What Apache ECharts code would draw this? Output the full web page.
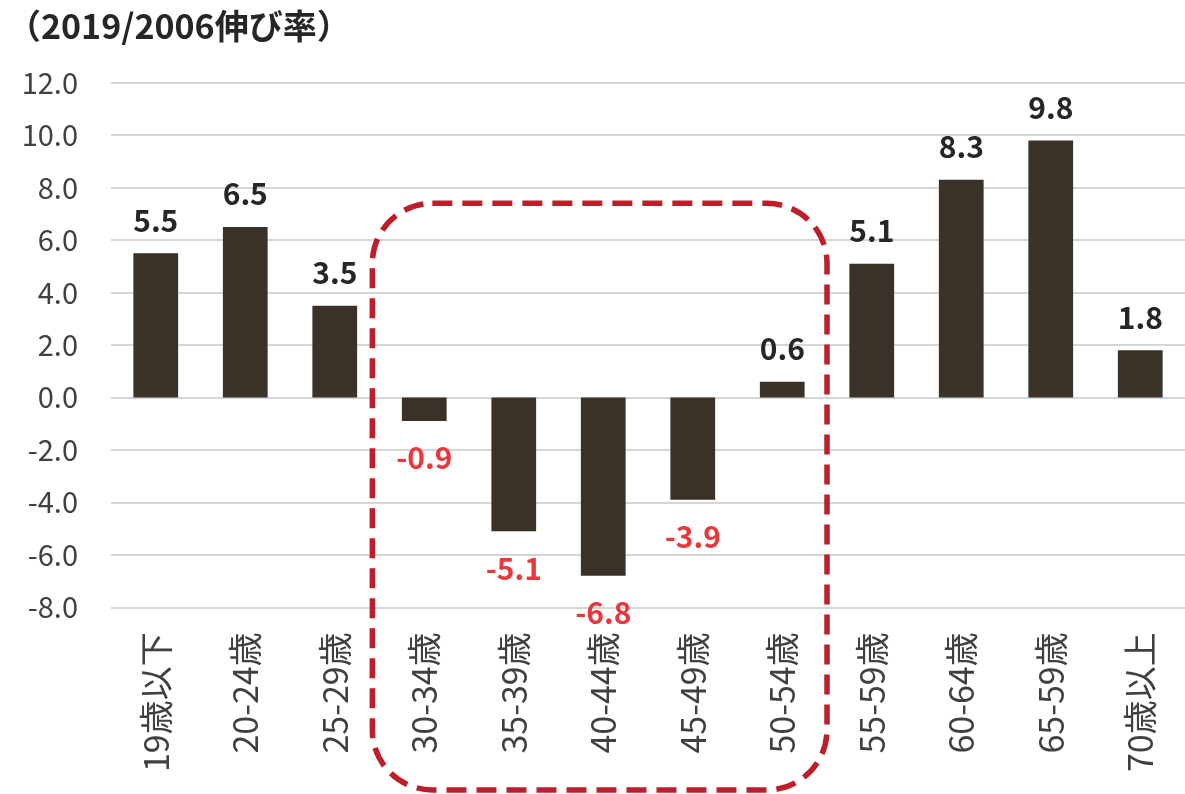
<!DOCTYPE html>
<html>
<head>
<meta charset="utf-8">
<script src="https://cdn.jsdelivr.net/npm/echarts@6/dist/echarts.min.js"></script>
<style>
  html, body { margin: 0; padding: 0; background: #ffffff; }
  #chart { width: 1185px; height: 794px; }
</style>
</head>
<body>
<div id="chart"></div>
<script>
// Age groups on the horizontal axis
const categories = ['19歳以下', '20-24歳', '25-29歳', '30-34歳', '35-39歳', '40-44歳',
                    '45-49歳', '50-54歳', '55-59歳', '60-64歳', '65-59歳', '70歳以上'];
// Growth rate 2019 vs 2006
const growthRates = [5.5, 6.5, 3.5, -0.9, -5.1, -6.8, -3.9, 0.6, 5.1, 8.3, 9.8, 1.8];
// Value axis range
const yMin = -8;
const yMax = 12;
const yStep = 2;
// Highlighted group range (category indices) and the frame's top value
const frameFrom = 3;
const frameTo = 7;
const frameTopValue = 7.4;

const FONT = "'Noto Sans CJK JP', 'Noto Sans', sans-serif";
const BAR_COLOR = '#3a3129';
const POS_LABEL = '#262626';
const NEG_LABEL = '#e8383d';

const chart = echarts.init(document.getElementById('chart'), null, { renderer: 'canvas' });

const barData = growthRates.map(v => ({
  value: v,
  label: v < 0
    ? { position: 'bottom', distance: 22, color: NEG_LABEL }
    : { position: 'top', distance: 18, color: POS_LABEL }
}));

chart.setOption({
  backgroundColor: '#ffffff',
  animation: false,
  textStyle: { fontFamily: FONT },
  title: {
    text: '（2019/2006伸び率）',
    left: 2,
    top: 4,
    textStyle: { fontFamily: FONT, fontSize: 34, fontWeight: 'bold', color: '#262626' }
  },
  grid: { left: 111, right: -8, top: 82.7, bottom: 186.7, containLabel: false },
  xAxis: {
    type: 'category',
    data: categories,
    axisLine: { show: false },
    axisTick: { show: false },
    splitLine: { show: false },
    axisLabel: {
      rotate: 90,
      margin: 25,
      fontSize: 34,
      color: '#404040',
      fontFamily: FONT,
      interval: 0
    }
  },
  yAxis: {
    type: 'value',
    min: yMin,
    max: yMax,
    interval: yStep,
    axisLine: { show: false },
    axisTick: { show: false },
    axisLabel: {
      margin: 33,
      fontSize: 29,
      color: '#404040',
      fontFamily: FONT,
      formatter: v => v.toFixed(1)
    },
    splitLine: { lineStyle: { color: '#d6d6d6', width: 2 } }
  },
  series: [{
    type: 'bar',
    data: barData,
    barWidth: '50%',
    itemStyle: { color: BAR_COLOR },
    label: {
      show: true,
      fontSize: 30,
      fontWeight: 'bold',
      fontFamily: FONT,
      formatter: p => p.value.toFixed(1)
    }
  }]
});

// Dashed rounded frame around the middle-age groups, placed from the axes
function drawFrame() {
  const xa = chart.convertToPixel({ xAxisIndex: 0 }, frameFrom);
  const xb = chart.convertToPixel({ xAxisIndex: 0 }, frameTo);
  const band = (xb - xa) / (frameTo - frameFrom);
  const left = xa - 0.58 * band;
  const right = xb + 0.5 * band;
  const top = chart.convertToPixel({ yAxisIndex: 0 }, frameTopValue);
  const bottom = chart.getHeight() - 4;
  chart.setOption({
    graphic: [{
      type: 'rect',
      silent: true,
      z: 100,
      shape: { x: left, y: top, width: right - left, height: bottom - top, r: 60 },
      style: { fill: 'none', stroke: '#bd1f2a', lineWidth: 5.5, lineDash: [20, 10] }
    }]
  });
}
drawFrame();
</script>
</body>
</html>
